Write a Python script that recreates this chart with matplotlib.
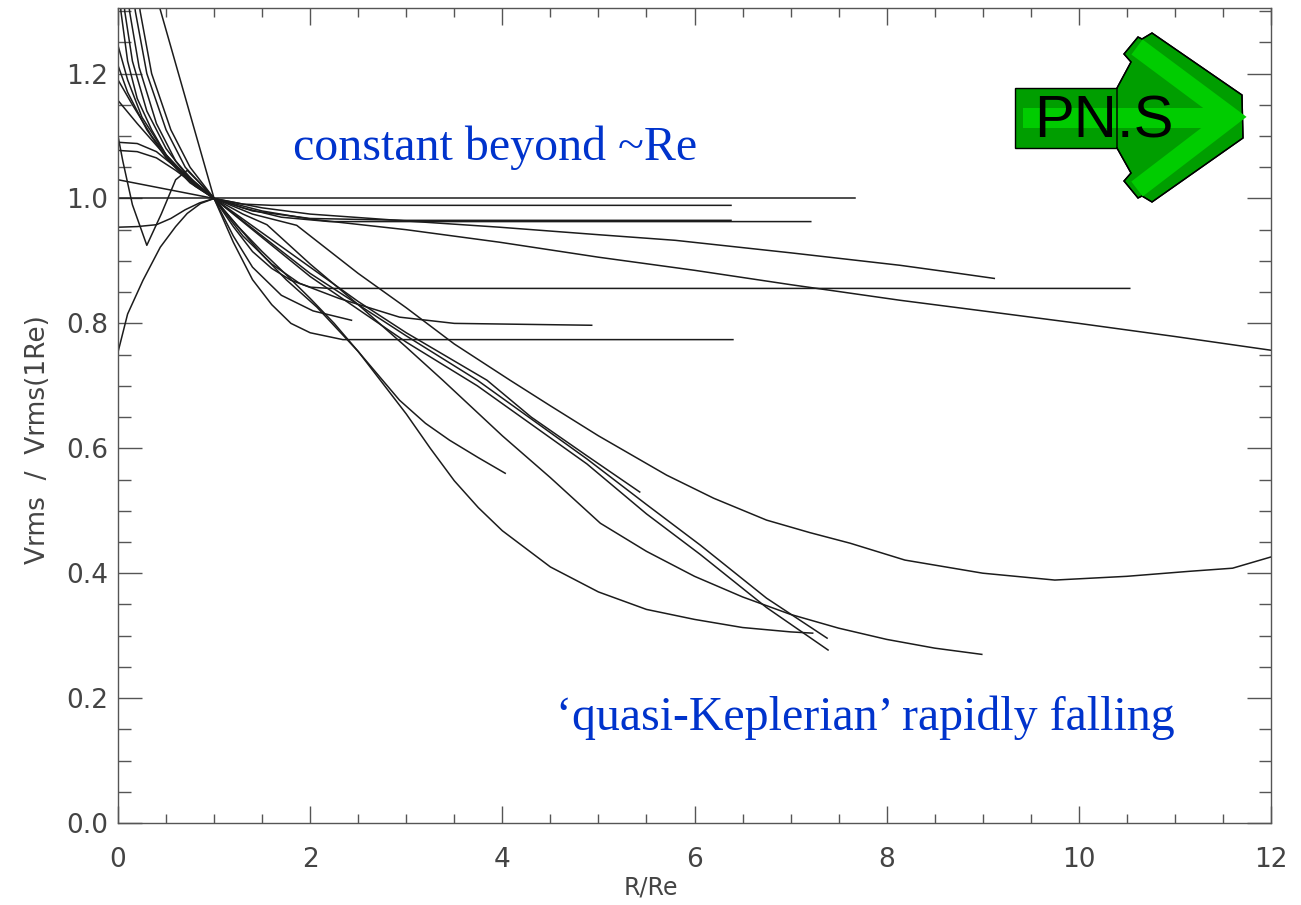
import matplotlib
matplotlib.use("Agg")
import matplotlib.pyplot as plt
from matplotlib.patches import Polygon, Rectangle
from matplotlib.ticker import MultipleLocator

# ---- normalised velocity-dispersion profiles: R/Re and Vrms/Vrms(1Re) ----
prof01_r = [0.0, 7.67]
prof01_v = [1.0, 1.0]

prof02_r = [0.02, 0.07, 0.15, 0.3, 0.5, 0.7, 1.0, 1.3, 1.6, 6.38]
prof02_v = [1.42, 1.30, 1.22, 1.14, 1.08, 1.04, 1.0, 0.991, 0.989, 0.989]

prof03_r = [0.0, 0.1, 0.26, 0.44, 0.6, 0.72, 0.86, 1.0, 1.3, 1.7, 2.2, 7.21]
prof03_v = [0.754, 0.815, 0.869, 0.922, 0.955, 0.976, 0.992, 1.0, 0.985, 0.970, 0.963, 0.963]

prof04_r = [0.0, 0.2, 0.4, 0.55, 0.7, 0.85, 1.0, 1.4, 2.0, 3.0, 6.38]
prof04_v = [0.954, 0.955, 0.958, 0.968, 0.982, 0.993, 1.0, 0.980, 0.968, 0.965, 0.965]

prof05_r = [0.0, 0.1, 0.3, 0.5, 0.75, 1.0, 1.5, 2.0, 3.0, 3.97, 5.0, 5.8, 7.0, 8.14, 8.66, 9.12]
prof05_v = [1.213, 1.17, 1.11, 1.065, 1.025, 1.0, 0.985, 0.975, 0.964, 0.954, 0.942, 0.933, 0.913, 0.893, 0.882, 0.872]

prof06_r = [0.0, 0.15, 0.35, 0.6, 0.8, 1.0, 1.5, 2.0, 3.0, 3.97, 5.0, 6.0, 7.0, 8.14, 9.0, 10.0, 11.0, 12.0]
prof06_v = [1.19, 1.15, 1.10, 1.05, 1.02, 1.0, 0.98, 0.967, 0.950, 0.930, 0.906, 0.885, 0.862, 0.837, 0.820, 0.800, 0.779, 0.757]

prof07_r = [0.05, 0.12, 0.22, 0.4, 0.6, 0.8, 1.0, 1.2, 1.4, 1.6, 1.8, 2.0, 2.2, 10.53]
prof07_v = [1.42, 1.30, 1.21, 1.12, 1.06, 1.025, 1.0, 0.955, 0.915, 0.888, 0.869, 0.858, 0.856, 0.856]

prof08_r = [0.0, 0.2, 0.4, 0.6, 0.8, 1.0, 1.3, 1.6, 1.89, 2.3, 2.93, 3.5, 4.93]
prof08_v = [1.157, 1.12, 1.085, 1.05, 1.022, 1.0, 0.94, 0.895, 0.864, 0.840, 0.810, 0.800, 0.797]

prof09_r = [0.0, 0.03, 0.1, 0.2, 0.35, 0.5, 0.7, 1.0, 1.2, 1.4, 1.6, 1.8, 2.0, 2.34, 6.4]
prof09_v = [1.42, 1.30, 1.22, 1.16, 1.11, 1.07, 1.035, 1.0, 0.93, 0.87, 0.83, 0.80, 0.785, 0.774, 0.774]

prof10_r = [0.0, 1.0, 1.2, 1.4, 1.7, 2.03, 2.43]
prof10_v = [1.03, 1.0, 0.94, 0.89, 0.845, 0.820, 0.805]

prof11_r = [0.0, 0.2, 0.4, 0.6, 0.8, 1.0, 1.25, 1.5, 1.75, 2.07, 2.5, 2.93, 3.2, 3.45, 3.75, 4.03]
prof11_v = [1.09, 1.088, 1.075, 1.05, 1.025, 1.0, 0.955, 0.91, 0.87, 0.826, 0.755, 0.677, 0.640, 0.613, 0.585, 0.560]

prof12_r = [0.1, 0.18, 0.3, 0.5, 0.7, 1.0, 1.5, 2.0, 2.5, 3.0, 3.84, 4.3, 4.88, 5.43]
prof12_v = [1.42, 1.30, 1.20, 1.11, 1.05, 1.0, 0.945, 0.89, 0.835, 0.785, 0.709, 0.650, 0.588, 0.530]

prof13_r = [0.0, 0.2, 0.4, 0.6, 0.8, 1.0, 1.4, 1.86, 2.5, 3.0, 3.5, 4.08, 4.5, 5.0, 5.71, 6.2, 6.75,
            7.2, 7.62, 8.19, 9.0, 9.75, 10.5, 11.15, 11.6, 12.0]
prof13_v = [1.077, 1.075, 1.065, 1.045, 1.022, 1.0, 0.975, 0.957, 0.880, 0.825, 0.767, 0.709, 0.668, 0.620,
            0.557, 0.520, 0.485, 0.465, 0.448, 0.421, 0.400, 0.389, 0.395, 0.403, 0.408, 0.426]

prof14_r = [0.0, 0.05, 0.15, 0.3, 0.45, 0.6, 0.72, 0.85, 1.0, 1.3, 1.55, 2.0, 2.5, 3.0, 3.38, 4.0, 4.5,
            5.02, 5.5, 6.0, 6.5, 7.0, 7.5, 8.0, 8.5, 8.99]
prof14_v = [1.10, 1.06, 0.99, 0.925, 0.975, 1.03, 1.045, 1.025, 1.0, 0.975, 0.958, 0.895, 0.830, 0.762,
            0.709, 0.620, 0.553, 0.480, 0.435, 0.395, 0.362, 0.334, 0.312, 0.294, 0.280, 0.270]

prof15_r = [0.37, 1.0, 1.25, 1.5, 1.75, 2.0, 2.25, 2.5, 2.75, 3.0, 3.25, 3.5, 3.75, 4.0, 4.5, 5.0,
            5.5, 6.0, 6.5, 7.0, 7.23]
prof15_v = [1.34, 1.0, 0.955, 0.915, 0.878, 0.840, 0.800, 0.755, 0.705, 0.655, 0.600, 0.548, 0.505,
            0.468, 0.410, 0.370, 0.342, 0.326, 0.313, 0.306, 0.304]

prof16_r = [0.0, 0.1, 0.25, 0.5, 0.75, 1.0, 2.0, 3.0, 3.74, 4.88, 5.5, 6.06, 6.75, 7.38]
prof16_v = [1.245, 1.19, 1.13, 1.07, 1.03, 1.0, 0.880, 0.780, 0.709, 0.583, 0.510, 0.445, 0.360, 0.296]

prof17_r = [0.15, 0.23, 0.35, 0.55, 0.75, 1.0, 2.0, 3.0, 3.74, 4.88, 5.5, 6.06, 6.75, 7.39]
prof17_v = [1.42, 1.30, 1.20, 1.11, 1.05, 1.0, 0.875, 0.770, 0.700, 0.575, 0.495, 0.430, 0.345, 0.277]

profiles = [
    (prof01_r, prof01_v), (prof02_r, prof02_v), (prof03_r, prof03_v),
    (prof04_r, prof04_v), (prof05_r, prof05_v), (prof06_r, prof06_v),
    (prof07_r, prof07_v), (prof08_r, prof08_v), (prof09_r, prof09_v),
    (prof10_r, prof10_v), (prof11_r, prof11_v), (prof12_r, prof12_v),
    (prof13_r, prof13_v), (prof14_r, prof14_v), (prof15_r, prof15_v),
    (prof16_r, prof16_v), (prof17_r, prof17_v),
]

x_ticks = [0, 2, 4, 6, 8, 10, 12]
y_ticks = [0.0, 0.2, 0.4, 0.6, 0.8, 1.0, 1.2]

W, H = 1301, 905
fig = plt.figure(figsize=(W / 100, H / 100), dpi=100)
ax = fig.add_axes([118 / W, 1 - 823 / H, (1271 - 118) / W, (823 - 8) / H])

for r, v in profiles:
    ax.plot(r, v, color="#1c1c1c", lw=1.1, solid_joinstyle="round")

ax.set_xlim(0, 12)
ax.set_ylim(0, 1.305)
ax.set_xticks(x_ticks)
ax.set_yticks(y_ticks)
ax.set_xticklabels([str(t) for t in x_ticks])
ax.set_yticklabels([f"{t:.1f}" for t in y_ticks])
ax.xaxis.set_minor_locator(MultipleLocator(0.5))
ax.yaxis.set_minor_locator(MultipleLocator(0.05))

axis_grey = "#555555"
for s in ax.spines.values():
    s.set_color(axis_grey)
    s.set_linewidth(1.0)
ax.tick_params(which="both", direction="in", top=True, right=True,
               color=axis_grey, width=1.0, labelcolor="#444444", labelsize=19)
ax.tick_params(axis="x", which="major", length=12.4, pad=17)
ax.tick_params(axis="x", which="minor", length=6.5)
ax.tick_params(axis="y", which="major", length=17.5, pad=7)
ax.tick_params(axis="y", which="minor", length=9)

# axis titles placed in figure pixels
fig.text(651 / W, 1 - 887 / H, "R/Re", fontsize=17, color="#444444",
         ha="center", va="center")
fig.text(38 / W, 1 - 440 / H, "Vrms  /  Vrms(1Re)", fontsize=19, color="#444444",
         ha="center", va="center", rotation=90)

# ---- annotations ----
blue = "#0033cc"
fig.text(293 / W, 1 - 160 / H, "constant beyond ~Re", color=blue,
         family="Liberation Serif", fontsize=34.5, ha="left", va="baseline")
fig.text(556 / W, 1 - 730 / H, "\u2018quasi-Keplerian\u2019 rapidly falling", color=blue,
         family="Liberation Serif", fontsize=34.5, ha="left", va="baseline")

# ---- PN.S arrow badge (pixel coordinates) ----
ov = fig.add_axes([0, 0, 1, 1], zorder=5)
ov.set_xlim(0, W)
ov.set_ylim(H, 0)
ov.axis("off")
ov.patch.set_alpha(0)

dark_green = "#009e00"
light_green = "#00cc00"
head = [(1117, 88), (1131, 62), (1124, 54), (1138, 37), (1142, 39), (1152, 33),
        (1242, 95), (1243, 138), (1152, 202), (1142, 196), (1138, 198),
        (1124, 181), (1131, 173), (1117, 148)]
ov.add_patch(Rectangle((1015, 88), 104, 60, facecolor=dark_green,
                       edgecolor="black", lw=1.0))
ov.add_patch(Polygon(head, closed=True, facecolor=dark_green, edgecolor="black", lw=1.0))
ov.add_patch(Rectangle((1116, 89), 4, 58, facecolor=dark_green, edgecolor="none"))
ov.add_patch(Rectangle((1023, 108), 208, 20, facecolor=light_green, edgecolor="none"))
ov.plot([1137, 1231, 1137], [47, 117, 189], color=light_green, lw=13.5,
        solid_capstyle="butt", solid_joinstyle="miter")
ov.add_patch(Polygon(head, closed=True, facecolor="none", edgecolor="black", lw=1.0))
ov.text(1034, 138, "PN.S", family="Liberation Sans", fontsize=43, color="black",
        ha="left", va="baseline")

fig.savefig("out.png", dpi=100, facecolor="white")
